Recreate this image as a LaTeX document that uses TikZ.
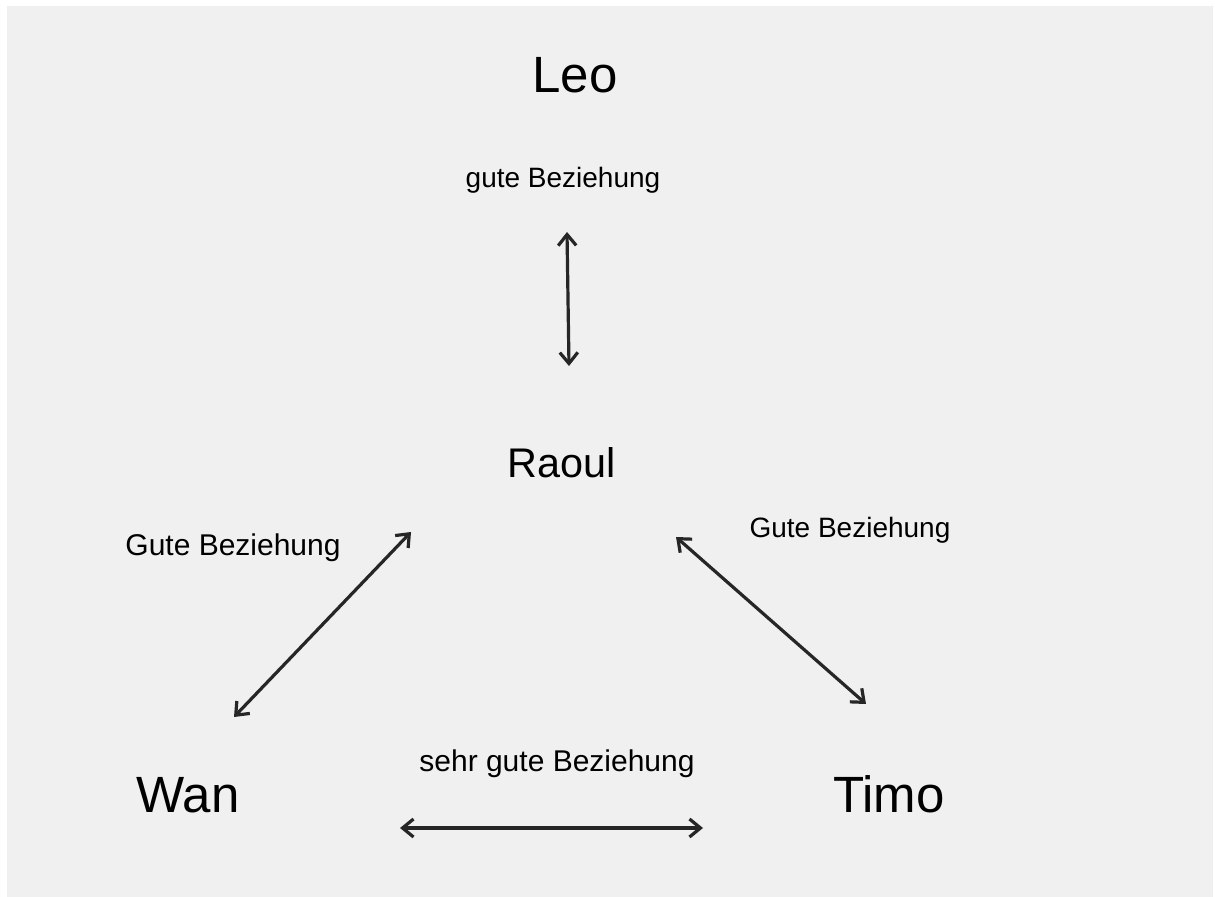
\documentclass[tikz,border=0pt]{standalone}
\usepackage{fontspec}
\setmainfont{Liberation Sans}
\usetikzlibrary{arrows.meta}
\definecolor{bg}{RGB}{240,240,240}
\definecolor{arr}{RGB}{38,38,38}
\tikzset{
  big/.style={anchor=base, inner sep=0pt, font=\fontsize{25.5}{30}\selectfont},
  mid/.style={anchor=base, inner sep=0pt, font=\fontsize{20.7}{24}\selectfont},
  lab/.style={anchor=base, inner sep=0pt, font=\fontsize{14}{16}\selectfont},
  labl/.style={anchor=base, inner sep=0pt, font=\fontsize{15}{17}\selectfont},
  rel/.style={draw=arr, line width=1.6pt, {Straight Barb[length=5.5pt,width=9pt]}-{Straight Barb[length=5.5pt,width=9pt]}}
}
\begin{document}
\begin{tikzpicture}[x=0.5pt,y=-0.5pt]
\useasboundingbox (0,0) rectangle (1215,897);
\fill[white] (0,0) rectangle (1215,897);
\fill[bg] (7,6) rectangle (1213,897);
% persons
\node[big] (leo) at (575,93) {Leo};
\node[mid] (raoul) at (562,478) {Raoul};
\node[big] (wan) at (188,812) {Wan};
\node[big] (timo) at (889,812) {Timo};
% labels
\node[lab] (l1) at (563,188) {gute Beziehung};
\node[labl] (l2) at (233,556) {Gute Beziehung};
\node[lab] (l3) at (850,538) {Gute Beziehung};
\node[labl] (l4) at (557,771) {sehr gute Beziehung};
% arrow ends
\coordinate (a1) at (567,232);
\coordinate (b1) at (569,366);
\coordinate (a2) at (411,532);
\coordinate (b2) at (234,717);
\coordinate (a3) at (676,537);
\coordinate (b3) at (866,704);
\coordinate (a4) at (400,828);
\coordinate (b4) at (703,828);
\draw[rel] (a1) -- (b1);
\draw[rel] (a2) -- (b2);
\draw[rel] (a3) -- (b3);
\draw[rel] (a4) -- (b4);
\end{tikzpicture}
\end{document}
